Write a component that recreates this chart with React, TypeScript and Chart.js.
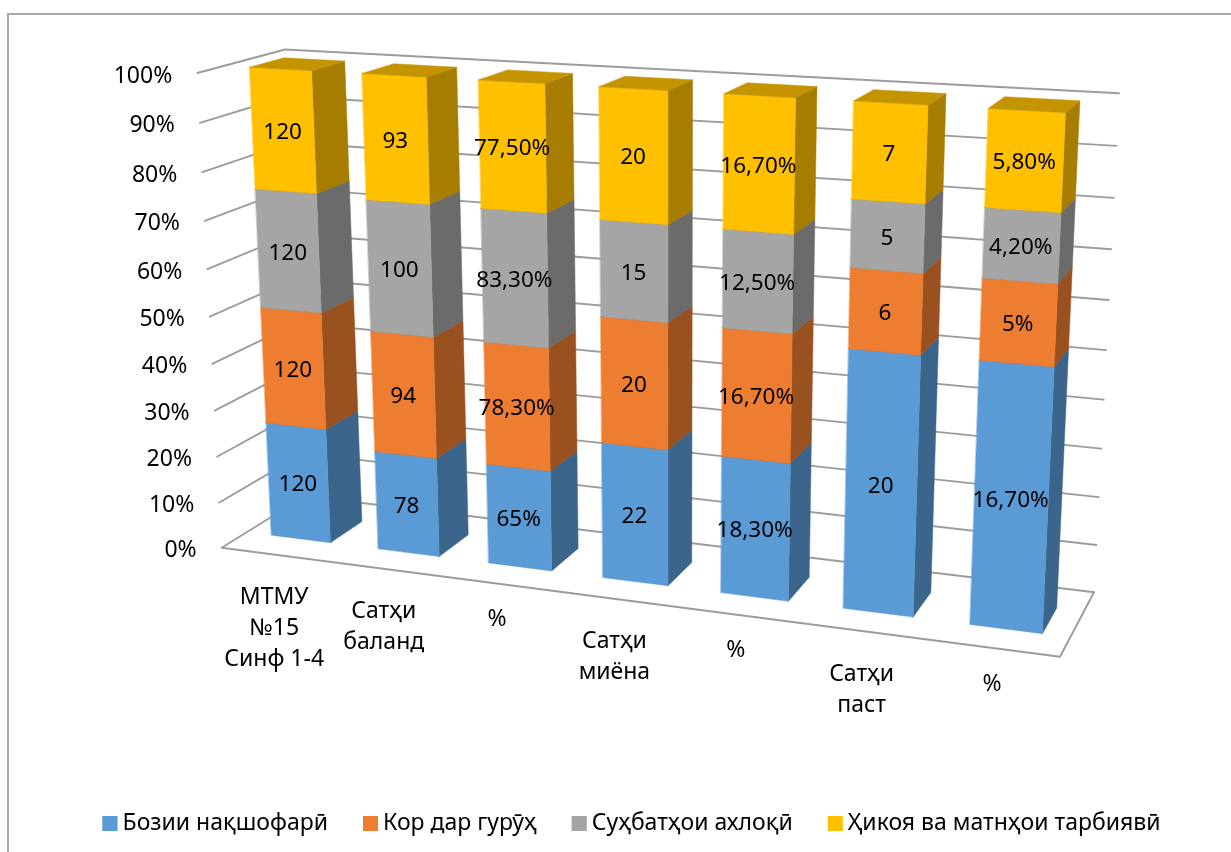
import React, { useEffect, useRef } from "react";
import { Chart, registerables } from "chart.js";

Chart.register(...registerables);

const categories: string[][] = [
  ["МТМУ", "№15", "Синф 1-4"],
  ["Сатҳи", "баланд"],
  ["%"],
  ["Сатҳи", "миёна"],
  ["%"],
  ["Сатҳи", "паст"],
  ["%"],
];
const roleplay = [120, 78, 65, 22, 18.3, 20, 16.7];
const groupWork = [120, 94, 78.3, 20, 16.7, 6, 5];
const ethicsTalks = [120, 100, 83.3, 15, 12.5, 5, 4.2];
const stories = [120, 93, 77.5, 20, 16.7, 7, 5.8];
const seriesNames = ["Бозии нақшофарӣ", "Кор дар гурӯҳ", "Суҳбатҳои ахлоқӣ", "Ҳикоя ва матнҳои тарбиявӣ"];
const seriesValues = [roleplay, groupWork, ethicsTalks, stories];
const frontColors = ["#5B9BD5", "#ED7D31", "#A5A5A5", "#FFC000"];
const sideColors = ["#3B658A", "#9A5120", "#6B6B6B", "#A67D00"];
const topColors = ["#4677A4", "#B66027", "#7F7F7F", "#C49400"];

const FONT = '"Noto Sans"';
const LINE = "#9C9C9C";
type P = [number, number];

// Wall planes of the 3D box on screen: [bottom-left, bottom-right, top-right, top-left].
const FRONT_PLANE: P[] = [[221.7, 547.7], [1060, 656.7], [1085, 123.6], [197.3, 73]];
const BACK_PLANE: P[] = [[305, 496], [1094, 592.3], [1119, 93.3], [285, 49.5]];
const BAR_DEPTH_NEAR = 0.3;
const BAR_DEPTH_FAR = 0.7;
const BAR_SHIFT = 1.5;

function planeMap(q: P[]) {
  const [[x0, y0], [x1, y1], [x2, y2], [x3, y3]] = q;
  const dx1 = x1 - x2, dx2 = x3 - x2, sx = x0 - x1 + x2 - x3;
  const dy1 = y1 - y2, dy2 = y3 - y2, sy = y0 - y1 + y2 - y3;
  const den = dx1 * dy2 - dx2 * dy1;
  const g = (sx * dy2 - dx2 * sy) / den;
  const h = (dx1 * sy - sx * dy1) / den;
  const a = x1 - x0 + g * x1, b = x3 - x0 + h * x3;
  const d = y1 - y0 + g * y1, e = y3 - y0 + h * y3;
  return (u: number, v: number): P => {
    const w = g * u + h * v + 1;
    return [(a * u + b * v + x0) / w, (d * u + e * v + y0) / w];
  };
}
const mapFront = planeMap(FRONT_PLANE);
const mapBack = planeMap(BACK_PLANE);
function project(u: number, v: number, z: number): P {
  const f = mapFront(u, v), b = mapBack(u, v);
  return [f[0] + (b[0] - f[0]) * z, f[1] + (b[1] - f[1]) * z];
}
function projectBar(u: number, v: number, z: number): P {
  const p = project(u, v, z);
  return [p[0] + BAR_SHIFT, p[1]];
}

function formatValue(value: number, cat: number): string {
  if (categories[cat][0] !== "%") return String(value);
  return Number.isInteger(value) ? `${value}%` : `${value.toFixed(2).replace(".", ",")}%`;
}

function poly(ctx: CanvasRenderingContext2D, pts: P[], fill: string) {
  ctx.beginPath();
  pts.forEach((p, i) => (i ? ctx.lineTo(p[0], p[1]) : ctx.moveTo(p[0], p[1])));
  ctx.closePath();
  ctx.fillStyle = fill;
  ctx.fill();
  ctx.strokeStyle = fill;
  ctx.lineWidth = 0.5;
  ctx.stroke();
}

const box3d = {
  id: "box3d",
  beforeDatasetsDraw(chart: any) {
    const ctx: CanvasRenderingContext2D = chart.ctx;
    const area = chart.chartArea;
    const yScale = chart.scales.y;
    const xScale = chart.scales.x;
    const U = (x: number) => (x - area.left) / (area.right - area.left);
    const V = (y: number) => (area.bottom - y) / (area.bottom - area.top);

    ctx.save();
    // Gridlines over the left wall and the back wall, with the value labels.
    ctx.lineCap = "round";
    ctx.lineJoin = "round";
    yScale.ticks.forEach((t: any) => {
      const v = V(yScale.getPixelForValue(t.value));
      const a = project(0, v, 0), b = project(0, v, 1), c = project(1, v, 1);
      ctx.beginPath();
      ctx.moveTo(a[0], a[1]);
      ctx.lineTo(b[0], b[1]);
      ctx.lineTo(c[0], c[1]);
      ctx.strokeStyle = LINE;
      ctx.lineWidth = 1.9;
      ctx.stroke();
      ctx.fillStyle = "#000";
      ctx.font = `23px ${FONT}`;
      ctx.textAlign = "right";
      ctx.textBaseline = "middle";
      ctx.fillText(`${t.value}%`, a[0] - 25, a[1] + 3);
    });
    // Floor front and right edges.
    const e1 = project(0, 0, 0), e2 = project(1, 0, 0), e3 = project(1, 0, 1);
    ctx.beginPath();
    ctx.moveTo(e1[0], e1[1]);
    ctx.lineTo(e2[0], e2[1]);
    ctx.lineTo(e3[0], e3[1]);
    ctx.strokeStyle = LINE;
    ctx.lineWidth = 1.9;
    ctx.stroke();

    // Category labels, hanging under the floor's front edge.
    ctx.font = `23px ${FONT}`;
    ctx.textAlign = "center";
    ctx.textBaseline = "middle";
    ctx.fillStyle = "#000";
    categories.forEach((lines, i) => {
      const p = project(U(xScale.getPixelForTick(i)), 0, 0);
      const drop = lines.length > 1 ? 43 : 36;
      lines.forEach((line, k) => ctx.fillText(line, p[0] - 1, p[1] + drop + k * 31));
    });

    // Bars: each Chart.js bar element is carried into the 3D box.
    const metas = seriesValues.map((_, s) => chart.getDatasetMeta(s));
    categories.forEach((_, i) => {
      metas.forEach((meta: any, s: number) => {
        const el = meta.data[i];
        const ul = U(el.x - el.width / 2), ur = U(el.x + el.width / 2);
        const vb = V(el.base), vt = V(el.y);
        const n = BAR_DEPTH_NEAR, f = BAR_DEPTH_FAR;
        poly(ctx, [projectBar(ur, vb, n), projectBar(ur, vb, f), projectBar(ur, vt, f), projectBar(ur, vt, n)], sideColors[s]);
        poly(ctx, [projectBar(ul, vb, n), projectBar(ur, vb, n), projectBar(ur, vt, n), projectBar(ul, vt, n)], frontColors[s]);
        poly(ctx, [projectBar(ul, vt, n), projectBar(ur, vt, n), projectBar(ur, vt, f), projectBar(ul, vt, f)], topColors[s]);
      });
      ctx.font = `22.5px ${FONT}`;
      ctx.textAlign = "center";
      ctx.textBaseline = "middle";
      ctx.fillStyle = "#000";
      metas.forEach((meta: any, s: number) => {
        const el = meta.data[i];
        const c = project(U(el.x), (V(el.base) + V(el.y)) / 2, BAR_DEPTH_NEAR);
        ctx.fillText(formatValue(seriesValues[s][i], i), c[0] + 1, c[1] + 2);
      });
    });
    ctx.restore();
    return false;
  },
  afterDraw(chart: any) {
    // The legend keeps Office's tight gap between key and text: widen each key to its full square.
    const ctx: CanvasRenderingContext2D = chart.ctx;
    const side = chart.options.plugins.legend.labels.boxHeight;
    chart.legend.legendHitBoxes.forEach((box: any, s: number) => {
      ctx.fillStyle = frontColors[s];
      ctx.fillRect(box.left, box.top + (box.height - side) / 2, side, side);
    });
  },
};

export default function App() {
  const ref = useRef<HTMLCanvasElement | null>(null);
  useEffect(() => {
    const totals = categories.map((_, i) => seriesValues.reduce((sum, s) => sum + s[i], 0));
    const chart = new Chart(ref.current as HTMLCanvasElement, {
      type: "bar",
      data: {
        labels: categories,
        datasets: seriesNames.map((label, s) => ({
          label,
          data: seriesValues[s].map((v, i) => (v / totals[i]) * 100),
          backgroundColor: frontColors[s],
        })),
      },
      options: {
        responsive: false,
        animation: false,
        devicePixelRatio: 1,
        layout: { padding: { left: 32, right: 0, top: 60, bottom: 7 } },
        datasets: { bar: { categoryPercentage: 1, barPercentage: 0.556 } },
        scales: {
          x: { stacked: true, ticks: { display: false }, grid: { display: false }, border: { display: false } },
          y: {
            stacked: true,
            min: 0,
            max: 100,
            ticks: { stepSize: 10, display: false },
            grid: { display: false },
            border: { display: false },
          },
        },
        plugins: {
          title: { display: false },
          tooltip: { enabled: false },
          legend: {
            display: true,
            position: "bottom",
            labels: {
              boxWidth: 8.5,
              boxHeight: 15,
              padding: 35,
              color: "#000",
              font: { family: "Noto Sans", size: 23 },
            },
          },
        },
      },
      plugins: [box3d],
    } as any);
    return () => chart.destroy();
  }, []);
  return (
    <div style={{ position: "fixed", left: 0, top: 0, width: 1231, height: 852, background: "#fff", overflow: "hidden" }}>
      <div
        style={{
          position: "absolute",
          left: 6.5,
          top: 12.5,
          width: 1300,
          height: 900,
          borderLeft: "2px solid #A8A8A8",
          borderTop: "2px solid #A8A8A8",
        }}
      />
      <canvas ref={ref} width={1231} height={852} style={{ position: "absolute", left: 0, top: 0, display: "block" }} />
    </div>
  );
}
